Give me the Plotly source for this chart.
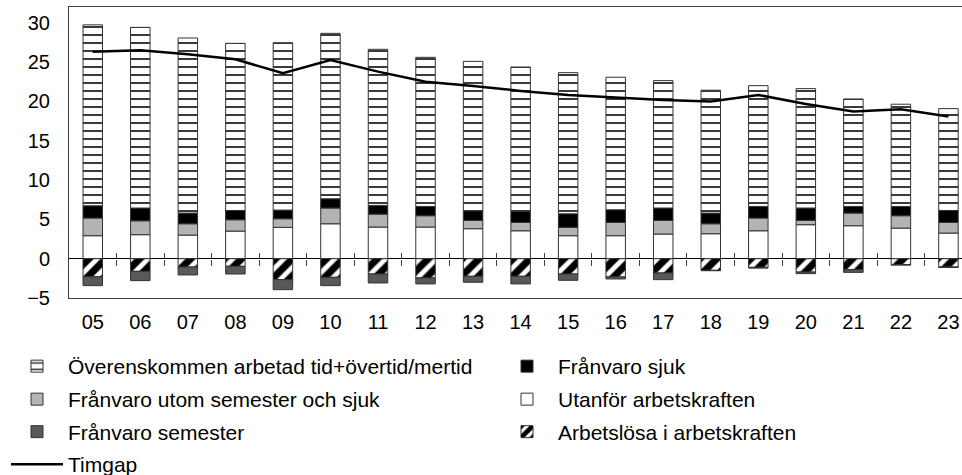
import plotly.graph_objects as go

years = ["05", "06", "07", "08", "09", "10", "11", "12", "13", "14",
         "15", "16", "17", "18", "19", "20", "21", "22", "23"]
overens = [23.0, 22.97, 22.26, 21.25, 21.28, 21.03, 19.85, 18.96, 19.0, 18.36,
           17.94, 16.85, 16.2, 15.62, 15.36, 15.18, 13.67, 13.0, 12.95]
sjuk = [1.56, 1.62, 1.36, 1.18, 1.1, 1.18, 1.1, 1.18, 1.22, 1.4,
        1.74, 1.61, 1.57, 1.36, 1.47, 1.57, 0.84, 1.18, 1.52]
utom = [2.25, 1.77, 1.44, 1.44, 1.1, 2.0, 1.65, 1.44, 1.06, 1.06,
        1.05, 1.69, 1.74, 1.27, 1.62, 0.55, 1.61, 1.57, 1.35]
utanfor = [2.92, 3.05, 3.0, 3.51, 3.98, 4.44, 4.02, 4.02, 3.81, 3.55,
           2.92, 2.92, 3.13, 3.17, 3.55, 4.32, 4.19, 3.89, 3.26]
arbetslosa = [-2.3, -1.61, -1.06, -0.97, -2.67, -2.37, -1.95, -2.45, -2.24, -2.24,
              -1.95, -2.32, -1.82, -1.48, -1.1, -1.7, -1.4, -0.76, -1.06]
semester = [-1.13, -1.18, -1.01, -0.98, -1.27, -1.06, -1.14, -0.76, -0.76, -0.97,
            -0.8, -0.26, -0.85, -0.05, -0.1, -0.2, -0.34, -0.05, -0.05]
timgap = [26.3, 26.5, 26.0, 25.35, 23.57, 25.26, 23.78, 22.5, 21.96, 21.33,
          20.82, 20.48, 20.19, 19.97, 20.82, 19.68, 18.7, 19.0, 18.07]

FONT = "Liberation Sans, Arial, sans-serif"
OUT = dict(color="#333333", width=1)
BW = 0.41

fig = go.Figure()
fig.add_trace(go.Bar(x=years, y=utanfor, name="Utanför arbetskraften", width=BW,
                     marker=dict(color="white", line=OUT), legend="legend4"))
fig.add_trace(go.Bar(x=years, y=utom, name="Frånvaro utom semester och sjuk", width=BW,
                     marker=dict(color="#b3b3b3", line=OUT), legend="legend3"))
fig.add_trace(go.Bar(x=years, y=sjuk, name="Frånvaro sjuk", width=BW,
                     marker=dict(color="black", line=OUT), legend="legend2"))
fig.add_trace(go.Bar(x=years, y=overens, name="Överenskommen arbetad tid+övertid/mertid", width=BW,
                     marker=dict(color="white", line=OUT,
                                 pattern=dict(shape="-", fgcolor="#3a3a3a", bgcolor="white",
                                              size=8, solidity=0.25, fillmode="replace",
                                              fgopacity=1)),
                     legend="legend"))
fig.add_trace(go.Bar(x=years, y=arbetslosa, name="Arbetslösa i arbetskraften", width=BW,
                     marker=dict(color="white", line=OUT,
                                 pattern=dict(shape="/", fgcolor="black", bgcolor="white",
                                              size=12, solidity=0.6, fillmode="replace",
                                              fgopacity=1)),
                     legend="legend6"))
fig.add_trace(go.Bar(x=years, y=semester, name="Frånvaro semester", width=BW,
                     marker=dict(color="#595959", line=OUT), legend="legend5"))
fig.add_trace(go.Scatter(x=years, y=timgap, name="Timgap", mode="lines",
                         line=dict(color="black", width=2.5), legend="legend7"))

xr = [-0.5, 18.285]
between = [i + 0.5 for i in range(len(years) - 1)]
zero_pos = 5 / 37


def leg(xpx, toppx):
    return dict(orientation="h", xref="container", yref="container",
                x=xpx / 962, y=(475 - toppx) / 475,
                xanchor="left", yanchor="top", itemwidth=52,
                bgcolor="rgba(0,0,0,0)",
                font=dict(family=FONT, size=21, color="black"))


rows = [346, 379, 411.5, 444]
fig.update_layout(
    width=962, height=475,
    margin=dict(l=69, r=0, t=7, b=177),
    paper_bgcolor="white", plot_bgcolor="white",
    barmode="relative",
    font=dict(family=FONT, size=20, color="black"),
    showlegend=True,
    legend=leg(6, rows[0]),
    legend2=leg(496, rows[0]),
    legend3=leg(6, rows[1]),
    legend4=leg(496, rows[1]),
    legend5=leg(6, rows[2]),
    legend6=leg(496, rows[2]),
    legend7=leg(6, rows[3]),
    xaxis=dict(type="category", range=xr, showgrid=False, ticks="",
               showline=True, linecolor="#404040", linewidth=1, mirror=True,
               ticklabelstandoff=6, tickfont=dict(size=20)),
    yaxis=dict(range=[-5, 32], tickvals=[-5, 0, 5, 10, 15, 20, 25, 30],
               showgrid=False, ticks="", showline=True, linecolor="#404040", linewidth=1,
               zeroline=True, zerolinecolor="black", zerolinewidth=1,
               ticklabelstandoff=14, tickfont=dict(size=20)),
    xaxis2=dict(overlaying="x", anchor="free", position=zero_pos, range=xr,
                tickvals=between, showticklabels=False, ticks="outside", ticklen=6,
                tickcolor="#404040", tickwidth=1, showgrid=False, showline=False,
                zeroline=False),
    xaxis3=dict(overlaying="x", anchor="free", position=zero_pos, range=xr,
                tickvals=between, showticklabels=False, ticks="inside", ticklen=6,
                tickcolor="#404040", tickwidth=1, showgrid=False, showline=False,
                zeroline=False),
)
# invisible helper traces to activate the tick overlay axes at y = 0
fig.add_trace(go.Scatter(x=[None], y=[None], xaxis="x2", showlegend=False, hoverinfo="skip"))
fig.add_trace(go.Scatter(x=[None], y=[None], xaxis="x3", showlegend=False, hoverinfo="skip"))

fig.write_html("out.html", config={"displayModeBar": False},
               post_script="document.body.style.margin='0px';")
